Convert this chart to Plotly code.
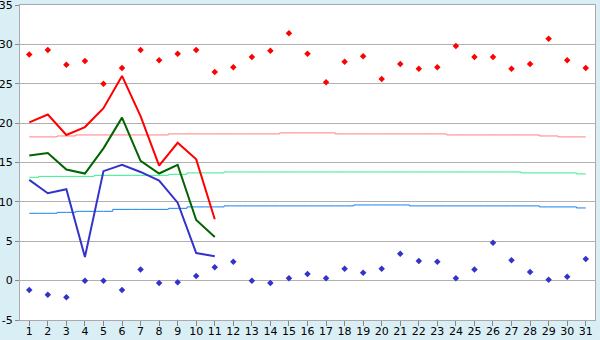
import plotly.graph_objects as go

days = list(range(1, 32))

# daily max (red points) and daily min (blue points)
max_pts = [28.7, 29.3, 27.4, 27.9, 25.0, 27.0, 29.3, 28.0, 28.8, 29.3, 26.5,
           27.1, 28.4, 29.2, 31.4, 28.8, 25.2, 27.8, 28.5, 25.6, 27.5,
           26.9, 27.1, 29.8, 28.4, 28.4, 26.9, 27.5, 30.7, 28.0, 27.0]
min_pts = [-1.2, -1.8, -2.1, 0.0, 0.0, -1.2, 1.4, -0.3, -0.2, 0.6, 1.7,
           2.4, 0.0, -0.3, 0.3, 0.85, 0.3, 1.5, 1.0, 1.5, 3.4,
           2.5, 2.4, 0.3, 1.4, 4.8, 2.6, 1.1, 0.1, 0.5, 2.75]

# current lines (days 1-11)
line_days = list(range(1, 12))
max_line = [20.1, 21.1, 18.5, 19.5, 21.9, 26.0, 20.9, 14.6, 17.5, 15.4, 7.8]
mean_line = [15.9, 16.2, 14.1, 13.6, 16.8, 20.7, 15.2, 13.6, 14.7, 7.7, 5.55]
min_line = [12.8, 11.1, 11.6, 3.0, 13.9, 14.7, 13.8, 12.7, 9.9, 3.5, 3.1]

# long-term averages
avg_max = [18.25, 18.25, 18.37, 18.5, 18.5, 18.5, 18.5, 18.5, 18.63, 18.63, 18.63,
           18.63, 18.63, 18.63, 18.76, 18.76, 18.76, 18.63, 18.63, 18.63, 18.63,
           18.63, 18.63, 18.5, 18.5, 18.5, 18.5, 18.5, 18.37, 18.25, 18.25]
avg_mean = [13.12, 13.24, 13.24, 13.24, 13.37, 13.37, 13.37, 13.37, 13.5, 13.68, 13.68,
            13.8, 13.8, 13.8, 13.8, 13.8, 13.8, 13.8, 13.8, 13.8, 13.8,
            13.8, 13.8, 13.8, 13.8, 13.8, 13.8, 13.68, 13.68, 13.68, 13.55]
avg_min = [8.55, 8.55, 8.67, 8.8, 8.8, 9.05, 9.05, 9.05, 9.18, 9.36, 9.36,
           9.49, 9.49, 9.49, 9.49, 9.49, 9.49, 9.49, 9.61, 9.61, 9.61,
           9.49, 9.49, 9.49, 9.49, 9.49, 9.49, 9.49, 9.36, 9.36, 9.23]

y_ticks = [-5, 0, 5, 10, 15, 20, 25, 30, 35]
y_text = ["-5", "0", "5", "10", "15", "20", "25", "30", "35"]

fig = go.Figure()
fig.add_trace(go.Scatter(x=days, y=avg_max, mode="lines", line=dict(color="#FF8080", width=1, shape="hvh")))
fig.add_trace(go.Scatter(x=days, y=avg_mean, mode="lines", line=dict(color="#33EE88", width=1, shape="hvh")))
fig.add_trace(go.Scatter(x=days, y=avg_min, mode="lines", line=dict(color="#1A80F0", width=1, shape="hvh")))
fig.add_trace(go.Scatter(x=line_days, y=max_line, mode="lines", line=dict(color="#FF0000", width=2)))
fig.add_trace(go.Scatter(x=line_days, y=mean_line, mode="lines", line=dict(color="#006400", width=2)))
fig.add_trace(go.Scatter(x=line_days, y=min_line, mode="lines", line=dict(color="#3333CC", width=2)))
fig.add_trace(go.Scatter(x=days, y=max_pts, mode="markers",
                         marker=dict(symbol="diamond", size=5, color="#FF0000")))
fig.add_trace(go.Scatter(x=days, y=min_pts, mode="markers",
                         marker=dict(symbol="diamond", size=5, color="#3333CC")))

fig.update_layout(
    width=600, height=340,
    margin=dict(l=20, r=5, t=5, b=20),
    paper_bgcolor="#DAEFF5",
    plot_bgcolor="#FFFFFF",
    showlegend=False,
    font=dict(family="DejaVu Sans", size=11, color="#000000"),
)
fig.update_xaxes(
    range=[0.5, 31.5], tickmode="array", tickvals=days,
    showgrid=False, zeroline=False,
    showline=True, linecolor="#AAAAAA", linewidth=1, mirror=True,
    ticks="outside", ticklen=5, tickcolor="#888888",
    ticklabeloverflow="allow", automargin=False, ticklabelstandoff=-4,
)
fig.update_yaxes(
    range=[-5, 35], tickmode="array", tickvals=y_ticks, ticktext=y_text,
    showgrid=True, gridcolor="#B0B0B0", gridwidth=1, zeroline=False,
    showline=True, linecolor="#AAAAAA", linewidth=1, mirror=True,
    ticks="outside", ticklen=4, tickcolor="#888888",
    ticklabeloverflow="allow", automargin=False,
)

fig.write_html("out.html")
